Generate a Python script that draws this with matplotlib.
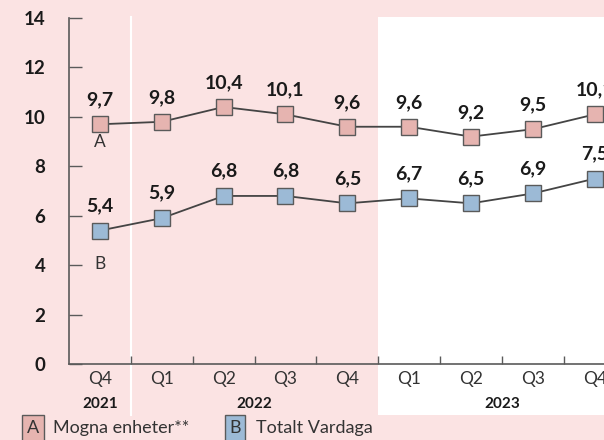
import numpy as np
import matplotlib
matplotlib.use('Agg')
import matplotlib.pyplot as plt
from matplotlib.patches import Rectangle
from matplotlib.lines import Line2D
import matplotlib.transforms as mtransforms

plt.rcParams['font.family'] = ['Lato', 'DejaVu Sans']

quarters = ['Q4', 'Q1', 'Q2', 'Q3', 'Q4', 'Q1', 'Q2', 'Q3', 'Q4']
years = ['2021', '2022', '2023']
year_pos = [0, 2.5, 6.5]
mogna = [9.7, 9.8, 10.4, 10.1, 9.6, 9.6, 9.2, 9.5, 10.1]
totalt = [5.4, 5.9, 6.8, 6.8, 6.5, 6.7, 6.5, 6.9, 7.5]
yticks = [0, 2, 4, 6, 8, 10, 12, 14]

bg = '#fbe3e3'
pink = '#e6b4b0'
blue = '#9cbad6'
dark = '#444444'
edge = '#5a5a5a'

fig = plt.figure(figsize=(6.04, 4.40), dpi=100, facecolor=bg)
ax = fig.add_axes([69/604, 76/440, 1 - 69/604, 346/440])
ax.patch.set_visible(False)

x = np.arange(len(quarters))
ax.set_xlim(-0.5, 8.15)
ax.set_ylim(0, 14)

# white background for 2023 and separator line
bt = mtransforms.blended_transform_factory(ax.transData, fig.transFigure)
fig.patches.append(Rectangle((4.5, 25/440), 10, (415-17)/440, transform=bt,
                             facecolor='white', edgecolor='none', zorder=-1))
fig.lines.append(Line2D([0.5, 0.5], [25/440, 1 - 17/440], transform=bt,
                        color='white', lw=1.5, zorder=-1))

ms = 12
ax.plot(x, mogna, color=dark, lw=1.3, marker='s', ms=ms, mfc=pink,
        mec=edge, mew=1, zorder=3)
ax.plot(x, totalt, color=dark, lw=1.3, marker='s', ms=ms, mfc=blue,
        mec=edge, mew=1, zorder=3)

for xi, v in zip(x, mogna):
    ax.annotate(f'{v:.1f}'.replace('.', ','), (xi, v), xytext=(0, 17.5),
                textcoords='offset points', ha='center', va='center',
                fontsize=14, fontweight='bold', color='#1a1a1a',
                annotation_clip=False)
for xi, v in zip(x, totalt):
    ax.annotate(f'{v:.1f}'.replace('.', ','), (xi, v), xytext=(0, 18),
                textcoords='offset points', ha='center', va='center',
                fontsize=14, fontweight='bold', color='#1a1a1a',
                annotation_clip=False)

ax.text(0, 9.0, 'A', ha='center', va='center', fontsize=12.5, color='#333333')
ax.text(0, 4.05, 'B', ha='center', va='center', fontsize=12.5, color='#333333')

# spines and ticks
for s in ['top', 'right']:
    ax.spines[s].set_visible(False)
for s in ['left', 'bottom']:
    ax.spines[s].set_color(edge)
    ax.spines[s].set_linewidth(1.2)

ax.set_yticks(yticks)
ax.set_yticklabels([str(t) for t in yticks], fontsize=13.5, fontweight='bold',
                   color='#1a1a1a')
ax.tick_params(axis='y', direction='in', length=9.5, width=1, color=edge, pad=17)

ax.set_xticks(np.arange(0.5, 8, 1))
ax.set_xticklabels([])
ax.tick_params(axis='x', which='major', direction='in', length=6, width=1,
               color=edge)
ax.set_xticks(x, minor=True)
ax.set_xticklabels(quarters, minor=True, fontsize=12.5, color='#333333')
ax.tick_params(axis='x', which='minor', length=0, pad=5)

for yp, yl in zip(year_pos, years):
    ax.text(yp, 36/440, yl, transform=bt, ha='center', va='center',
            fontsize=11, fontweight='bold', color='#1a1a1a')

# legend
fig.text(33/604, 12/440, 'A', ha='center', va='center', fontsize=13,
         color='#333333',
         bbox=dict(boxstyle='square,pad=0.25', fc=pink, ec=edge, lw=1))
fig.text(53/604, 12/440, 'Mogna enheter**', ha='left', va='center',
         fontsize=13, color='#333333')
fig.text(235/604, 12/440, 'B', ha='center', va='center', fontsize=13,
         color='#333333',
         bbox=dict(boxstyle='square,pad=0.25', fc=blue, ec=edge, lw=1))
fig.text(256/604, 12/440, 'Totalt Vardaga', ha='left', va='center',
         fontsize=13, color='#333333')

fig.savefig('out.png', dpi=100, facecolor=bg)
